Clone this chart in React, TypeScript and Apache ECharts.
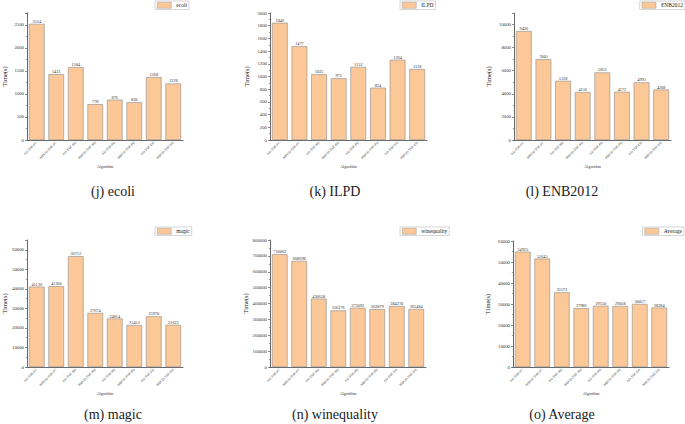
import React, { useEffect, useRef } from "react";
import * as echarts from "echarts";

const categories = [
  "AD-TSK-FC",
  "MBGD-TSK-FC",
  "AD-TSK-RD",
  "MBGD-TSK-RD",
  "AD-TSK-PD",
  "MBGD-TSK-PD",
  "AD-TSK-ED",
  "MBGD-TSK-ED",
];

const ecoli = [2524, 1431, 1584, 778, 876, 820, 1368, 1228];
const ilpd = [1846, 1477, 1035, 972, 1152, 824, 1264, 1118];
const enb2012 = [9436, 7005, 5128, 4156, 5852, 4172, 4992, 4368];
const magic = [41136, 41360, 56712, 27674, 24814, 21453, 25970, 21622];
const winequality = [710062, 668698, 430658, 356276, 373092, 363879, 384270, 365484];
const average = [54925, 51645, 35572, 27986, 29150, 29058, 30017, 28284];

const names = ["ecoli", "ILPD", "ENB2012", "magic", "winequality", "Average"];
const captions = ["(j) ecoli", "(k) ILPD", "(l) ENB2012", "(m) magic", "(n) winequality", "(o) Average"];
const yMax = [2760, 2000, 11000, 65000, 800000, 60000];
const yInterval = [500, 200, 2000, 10000, 100000, 10000];

const datasets = [ecoli, ilpd, enb2012, magic, winequality, average];

// layout (pixels)
const grids = [
  { left: 25, top: 13, width: 158, height: 127 },
  { left: 270, top: 13, width: 157, height: 127 },
  { left: 514, top: 13, width: 157, height: 127 },
  { left: 25, top: 240, width: 158, height: 127 },
  { left: 270, top: 240, width: 156, height: 127 },
  { left: 513, top: 241, width: 156, height: 126 },
];
const legendPos: any[] = [
  { left: 155, top: 1 },
  { left: 400, top: 1 },
  { right: 0, top: 1 },
  { left: 155, top: 227 },
  { left: 400, top: 227 },
  { right: 1, top: 227 },
];
const captionPos = [
  { x: 113, y: 191 },
  { x: 335, y: 191 },
  { x: 562, y: 191 },
  { x: 113, y: 414 },
  { x: 335, y: 414 },
  { x: 562, y: 414 },
];

const FONT = "Liberation Serif";
const BAR = "#FCC898";

export default function App() {
  const ref = useRef<HTMLDivElement>(null);
  useEffect(() => {
    document.body.style.margin = "0";
    const chart = echarts.init(ref.current!, undefined, { renderer: "svg" });
    const option: any = {
      animation: false,
      backgroundColor: "#fff",
      textStyle: { fontFamily: FONT },
      grid: grids.map((g) => ({ ...g, containLabel: false })),
      legend: names.map((n, i) => ({
        data: [{ name: n, icon: "rect" }],
        ...legendPos[i],
        padding: [1, 2, 1, 2],
        itemWidth: 14,
        itemHeight: 6,
        itemGap: 2,
        borderColor: "#bbb",
        borderWidth: 0.6,
        selectedMode: false,
        itemStyle: { borderColor: "#999", borderWidth: 0.5 },
        textStyle: { fontSize: 5.5, fontFamily: FONT, color: "#222" },
      })),
      xAxis: names.map((_, i) => ({
        type: "category",
        gridIndex: i,
        data: categories,
        name: "Algorithm",
        nameLocation: "middle",
        nameGap: 24,
        nameTextStyle: { fontSize: 4, color: "#333", fontFamily: FONT },
        axisLine: { lineStyle: { color: "#444", width: 0.8 } },
        axisTick: { alignWithLabel: true, length: 2, lineStyle: { color: "#444", width: 0.6 } },
        axisLabel: { rotate: 45, fontSize: 3.4, margin: 2, color: "#333", interval: 0 },
      })),
      yAxis: names.map((_, i) => ({
        type: "value",
        gridIndex: i,
        min: 0,
        max: yMax[i],
        interval: yInterval[i],
        name: "Time(s)",
        nameLocation: "middle",
        nameGap: i === 2 || i === 5 ? 22 : i === 4 ? 20 : i === 1 ? 20 : 19,
        nameTextStyle: { fontSize: 6.5, color: "#222", fontFamily: FONT },
        axisLine: { show: true, lineStyle: { color: "#444", width: 0.8 } },
        axisTick: { show: true, length: 2, lineStyle: { color: "#444", width: 0.6 } },
        minorTick: { show: true, splitNumber: 2, length: 1.2, lineStyle: { color: "#444", width: 0.5 } },
        splitLine: { show: false },
        axisLabel: {
          fontSize: 4.8,
          margin: 3,
          color: "#333",
          showMaxLabel: yMax[i] % yInterval[i] === 0,
          formatter: (v: number) => String(v),
        },
      })),
      series: names.map((n, i) => ({
        type: "bar",
        name: n,
        xAxisIndex: i,
        yAxisIndex: i,
        data: datasets[i],
        barCategoryGap: "20%",
        itemStyle: { color: BAR, borderColor: "#8c8c8c", borderWidth: 0.6 },
        label: { show: true, position: "top", distance: 0.5, fontSize: 4.3, color: "#333" },
      })),
      graphic: captions.map((c, i) => ({
        type: "text",
        x: captionPos[i].x,
        y: captionPos[i].y,
        style: {
          text: c,
          fontSize: 14,
          fontFamily: FONT,
          fill: "#222",
          textAlign: "center",
          textVerticalAlign: "middle",
          align: "center",
          verticalAlign: "middle",
        },
      })),
    };
    chart.setOption(option);
    return () => chart.dispose();
  }, []);
  return <div ref={ref} style={{ width: 685, height: 424, position: "absolute", left: 0, top: 0 }} />;
}
